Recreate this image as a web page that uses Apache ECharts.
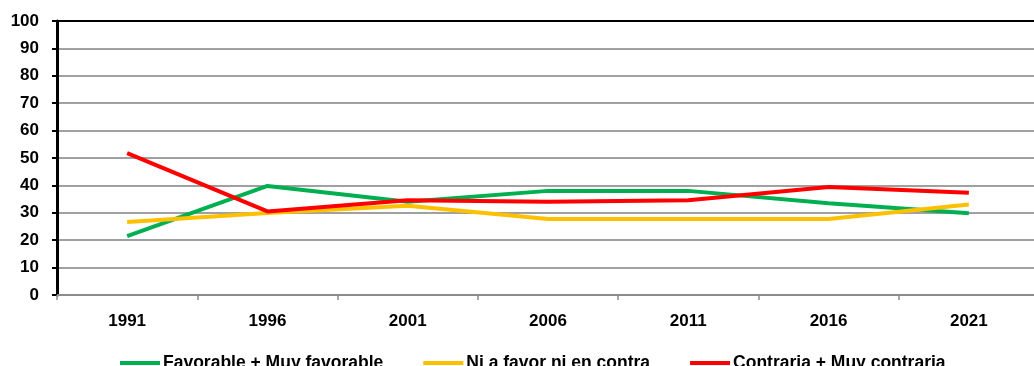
<!DOCTYPE html>
<html>
<head>
<meta charset="utf-8">
<script src="https://cdn.jsdelivr.net/npm/echarts@6/dist/echarts.min.js"></script>
<style>
  html, body { margin: 0; padding: 0; background: #ffffff; overflow: hidden; }
  /* the plot area runs a few pixels past the visible right edge */
  #chart { width: 1040px; height: 366px; }
</style>
</head>
<body>
<div id="chart"></div>
<script>
// Survey years on the horizontal axis
const years = ['1991', '1996', '2001', '2006', '2011', '2016', '2021'];

// Share of respondents (%) per opinion group
const favorable = [21.5, 39.8, 34.0, 38.0, 38.0, 33.5, 29.8];
const neutral   = [26.6, 29.9, 32.6, 27.7, 27.7, 27.7, 33.0];
const against   = [51.8, 30.5, 34.6, 34.0, 34.6, 39.4, 37.3];

const seriesNames = ['Favorable + Muy favorable', 'Ni a favor ni en contra', 'Contraria + Muy contraria'];
const seriesColors = ['#00b050', '#ffc000', '#ff0000'];

const FONT = 'Liberation Sans';

const chart = echarts.init(document.getElementById('chart'), null, { renderer: 'canvas' });

function lineSeries(name, data, color) {
  return {
    name: name,
    type: 'line',
    data: data,
    symbol: 'none',
    smooth: false,
    lineStyle: { color: color, width: 4 },
    itemStyle: { color: color },
    emphasis: { disabled: true },
    animation: false
  };
}

chart.setOption({
  animation: false,
  backgroundColor: '#ffffff',
  grid: { left: 57, top: 21, width: 982, height: 274, containLabel: false },
  legend: {
    top: 349,
    left: 115,
    itemWidth: 40,
    itemHeight: 4,
    itemGap: 40,
    icon: 'rect',
    textStyle: { fontFamily: FONT, fontWeight: 'bold', fontSize: 17.5, color: '#000000', padding: [0, 0, 0, -2] },
    data: seriesNames
  },
  xAxis: [
    {
      type: 'category',
      data: years,
      boundaryGap: true,
      axisLine: { lineStyle: { color: '#8c8c8c', width: 2 } },
      axisTick: { show: true, length: 5, lineStyle: { color: '#8c8c8c', width: 1.5 } },
      axisLabel: { fontFamily: FONT, fontWeight: 'bold', fontSize: 17, color: '#000000', margin: 18 },
      splitLine: { show: false }
    },
    {
      type: 'category',
      data: years,
      position: 'top',
      boundaryGap: true,
      axisLine: { lineStyle: { color: '#000000', width: 2 } },
      axisTick: { show: false },
      axisLabel: { show: false },
      splitLine: { show: false }
    }
  ],
  yAxis: {
    type: 'value',
    min: 0,
    max: 100,
    interval: 10,
    axisLine: { show: true, lineStyle: { color: '#000000', width: 3 } },
    axisTick: { show: true, length: 5, lineStyle: { color: '#000000', width: 2 } },
    axisLabel: { fontFamily: FONT, fontWeight: 'bold', fontSize: 17, color: '#000000', margin: 18 },
    splitLine: { show: true, lineStyle: { color: '#a0a0a0', width: 2 } }
  },
  series: [
    lineSeries(seriesNames[0], favorable, seriesColors[0]),
    lineSeries(seriesNames[1], neutral, seriesColors[1]),
    lineSeries(seriesNames[2], against, seriesColors[2])
  ]
});
</script>
</body>
</html>
